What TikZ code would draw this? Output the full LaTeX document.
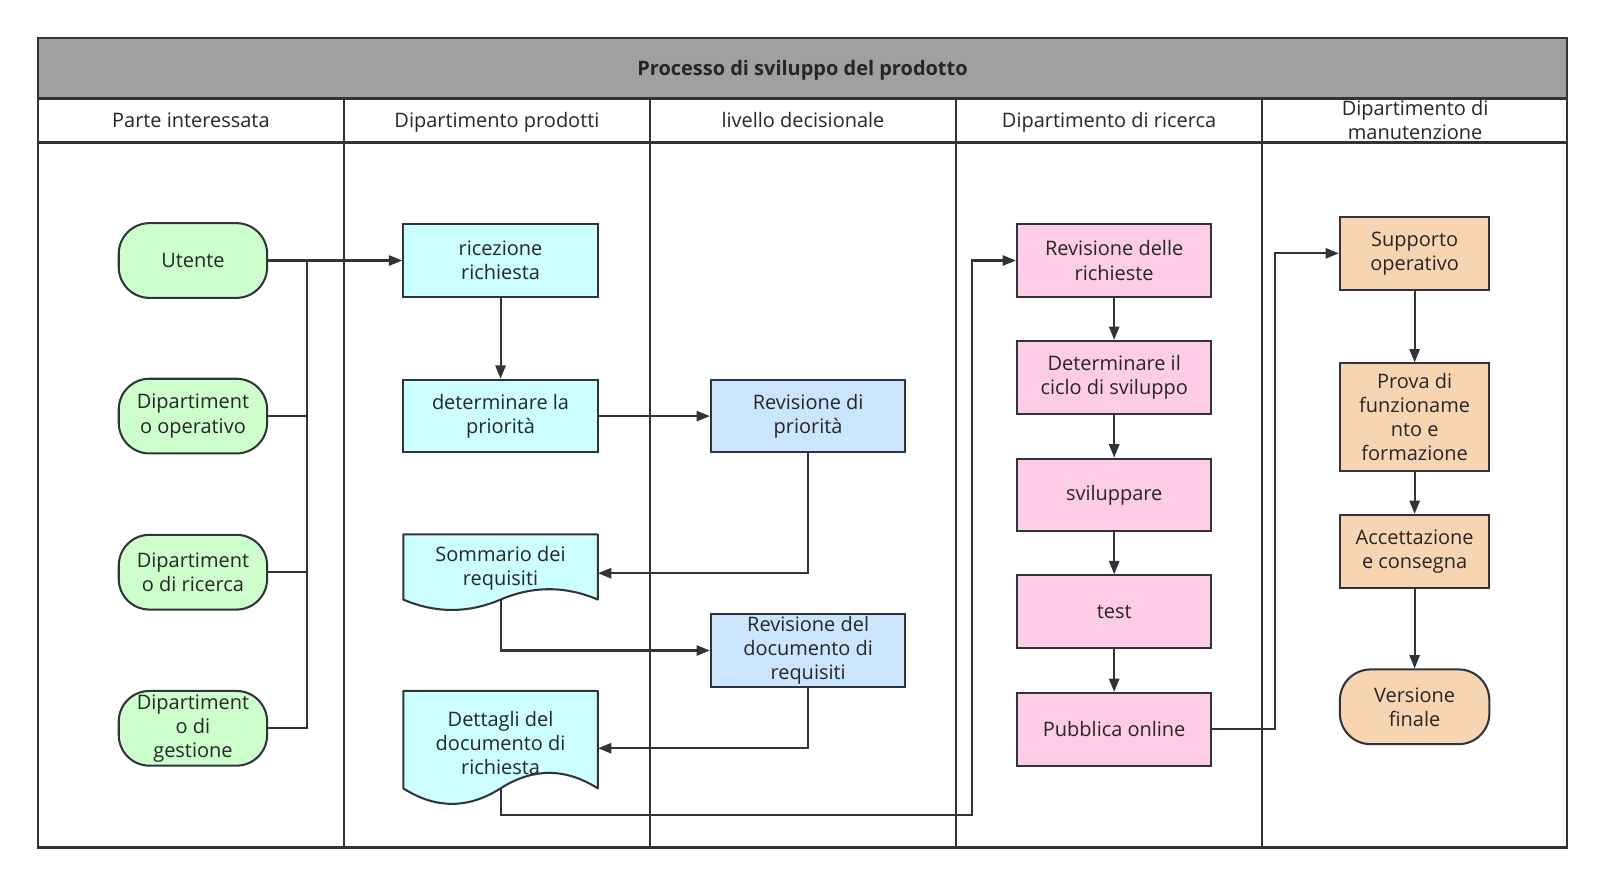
\documentclass[tikz,border=0pt]{standalone}
\usepackage{fontspec}
\setmainfont{Open Sans}
\usetikzlibrary{arrows.meta,calc}
\definecolor{linec}{HTML}{30343A}
\definecolor{txt}{HTML}{262626}
\definecolor{titlegray}{HTML}{A0A0A0}
\definecolor{gfill}{HTML}{CCFFCC}
\definecolor{cfill}{HTML}{CCFFFF}
\definecolor{bfill}{HTML}{CCE5FF}
\definecolor{pfill}{HTML}{FFCCE6}
\definecolor{ofill}{HTML}{F8D5B2}
\begin{document}
\begin{tikzpicture}[x=1pt,y=-1pt,
  font=\fontsize{19.5}{23.5}\selectfont,
  every node/.style={text=txt},
  box/.style={draw=linec, line width=2pt, rectangle, minimum width=190pt, minimum height=71pt, align=center, inner sep=0pt},
  obox/.style={box, fill=ofill, minimum width=146pt},
  term/.style={draw=linec, line width=2pt, rounded corners=30pt, minimum width=145pt, minimum height=73pt, align=center, inner sep=0pt},
  conn/.style={draw=linec, line width=2pt, -{Triangle[length=13pt,width=10pt]}},
  plain/.style={draw=linec, line width=2pt},
  frame/.style={draw=linec, line width=2.5pt},
  doctext/.style={align=center, inner sep=0pt, minimum width=190pt},
  head/.style={anchor=base}
]
\useasboundingbox (0,0) rectangle (1568,865);
% title bar and frame
\fill[titlegray] (37,37) rectangle (1531,96);
\draw[frame] (37,37) rectangle (1531,828);
\draw[frame] (37,96) -- (1531,96);
\draw[frame] (37,139) -- (1531,139);
\foreach \xx in {336,635,934,1233} \draw[frame] (\xx,96) -- (\xx,828);
\node[anchor=base, font=\fontsize{19.5}{23.5}\selectfont\bfseries] (title) at (784,74) {Processo di sviluppo del prodotto};
\node[head] (h1) at (186.5,125) {Parte interessata};
\node[head] (h2) at (485.5,125) {Dipartimento prodotti};
\node[head] (h3) at (784.5,125) {livello decisionale};
\node[head] (h4) at (1083.5,125) {Dipartimento di ricerca};
\node[align=center, font=\fontsize{19.5}{23}\selectfont] (h5) at (1382.5,117.5) {Dipartimento di\\manutenzione};

% lane 1
\node[term, fill=gfill] (ute) at (188.5,254.5) {Utente};
\node[term, fill=gfill] (dop) at (188.5,406.5) {Dipartiment\\o operativo};
\node[term, fill=gfill] (dri) at (188.5,559) {Dipartiment\\o di ricerca};
\node[term, fill=gfill] (dge) at (188.5,711.5) {Dipartiment\\o di\\gestione};

% lane 2
\node[box, fill=cfill] (ric) at (489,254.5) {ricezione\\richiesta};
\node[box, fill=cfill] (pri) at (489,406.5) {determinare la\\priorità};
\fill[cfill] (394,522) -- (584,522) -- (584,585.75)
  .. controls (552.33,572.25) and (520.67,572.25) .. (489,585.75)
  .. controls (457.33,599.25) and (425.67,599.25) .. (394,585.75) -- cycle;
\draw[plain, line join=round] (394,522) -- (584,522) -- (584,585.75)
  .. controls (552.33,572.25) and (520.67,572.25) .. (489,585.75)
  .. controls (457.33,599.25) and (425.67,599.25) .. (394,585.75) -- cycle;
\node[doctext, minimum height=61pt] (som) at (489,555.5) {Sommario dei\\requisiti};
\fill[cfill] (394,675) -- (584,675) -- (584,770.2)
  .. controls (552.33,750.04) and (520.67,750.04) .. (489,770.2)
  .. controls (457.33,790.36) and (425.67,790.36) .. (394,770.2) -- cycle;
\node[doctext, minimum height=89.4pt] (det) at (489,725.5) {Dettagli del\\documento di\\richiesta};
\draw[plain, line join=round] (394,675) -- (584,675) -- (584,770.2)
  .. controls (552.33,750.04) and (520.67,750.04) .. (489,770.2)
  .. controls (457.33,790.36) and (425.67,790.36) .. (394,770.2) -- cycle;

% lane 3
\node[box, fill=bfill] (revp) at (789.5,406.5) {Revisione di\\priorità};
\node[box, fill=bfill] (revd) at (789.5,635.5) {Revisione del\\documento di\\requisiti};

% lane 4
\node[box, fill=pfill] (revr) at (1088.5,254.5) {Revisione delle\\richieste};
\node[box, fill=pfill] (cic) at (1088.5,368.5) {Determinare il\\ciclo di sviluppo};
\node[box, fill=pfill] (svi) at (1088.5,483.5) {sviluppare};
\node[box, fill=pfill] (tst) at (1088.5,597.5) {test};
\node[box, fill=pfill] (pub) at (1088.5,712.5) {Pubblica online};

% lane 5
\node[obox] (sup) at (1382,247.5) {Supporto\\operativo};
\node[obox, minimum height=105pt] (pro) at (1382,407.5) {Prova di\\funzioname\\nto e\\formazione};
\node[obox] (acc) at (1382,538.5) {Accettazione\\e consegna};
\node[term, fill=ofill, minimum width=146pt] (ver) at (1382,690.5) {Versione\\finale};

% connectors
\coordinate (jn) at (300,254.5);
\draw[plain] (dop.east) -| (jn);
\draw[plain] (dri.east) -| (jn);
\draw[plain] (dge.east) -| (jn);
\draw[conn] (ute.east) -- (ric.west);
\draw[conn] (ric.south) -- (pri.north);
\draw[conn] (pri.east) -- (revp.west);
\draw[conn] (revp.south) |- ([yshift=-4.5pt]som.east);
\draw[conn] (som.south) |- (revd.west);
\draw[conn] (revd.south) |- ([yshift=-5.5pt]det.east);
\coordinate (c1) at (950,796);
\draw[conn] (det.south) |- (c1) |- (revr.west);
\draw[conn] (revr.south) -- (cic.north);
\draw[conn] (cic.south) -- (svi.north);
\draw[conn] (svi.south) -- (tst.north);
\draw[conn] (tst.south) -- (pub.north);
\coordinate (c2) at (1246,712.5);
\draw[conn] (pub.east) -- (c2) |- (sup.west);
\draw[conn] (sup.south) -- (pro.north);
\draw[conn] (pro.south) -- (acc.north);
\draw[conn] (acc.south) -- (ver.north);
\end{tikzpicture}
\end{document}
